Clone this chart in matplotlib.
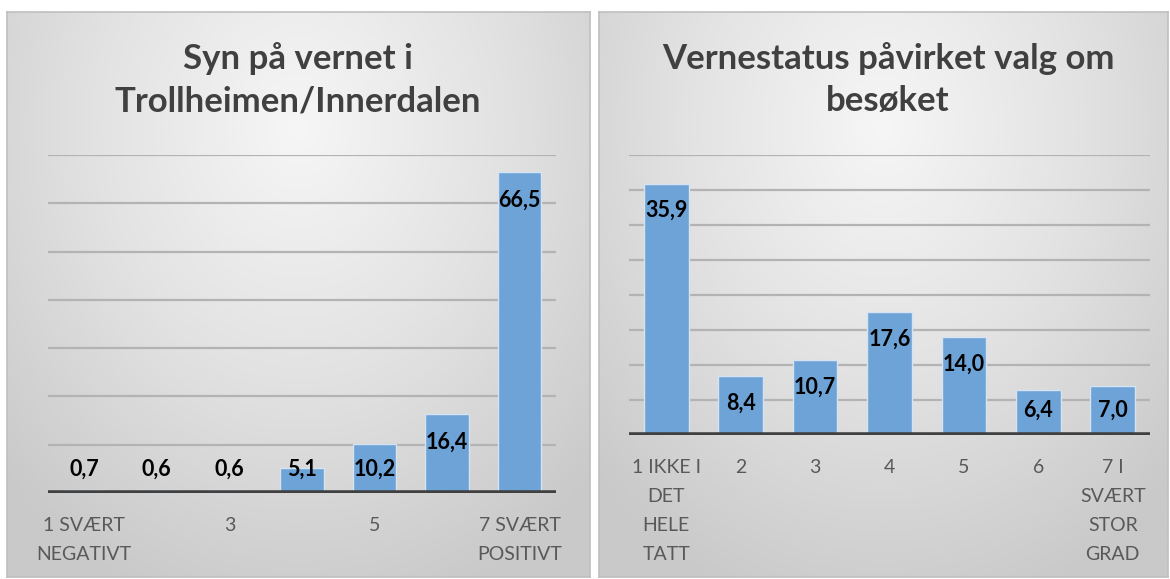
import numpy as np
import matplotlib
matplotlib.use("Agg")
import matplotlib.pyplot as plt
from matplotlib.colors import LinearSegmentedColormap

plt.rcParams['font.family'] = ['Lato', 'DejaVu Sans']

# left chart
left_title = "Syn på vernet i\nTrollheimen/Innerdalen"
left_cats = ["1 SVÆRT\nNEGATIVT", "2", "3", "4", "5", "6", "7 SVÆRT\nPOSITIVT"]
left_vals = [0.7, 0.6, 0.6, 5.1, 10.2, 16.4, 66.5]

# right chart
right_title = "Vernestatus påvirket valg om\nbesøket"
right_cats = ["1 IKKE I\nDET\nHELE\nTATT", "2", "3", "4", "5", "6", "7 I\nSVÆRT\nSTOR\nGRAD"]
right_vals = [35.9, 8.4, 10.7, 17.6, 14.0, 6.4, 7.0]

W, H = 1170, 579
fig = plt.figure(figsize=(W / 100, H / 100), dpi=100)
fig.patch.set_facecolor('white')

bg_cmap = LinearSegmentedColormap.from_list('bg', ['#f6f6f6', '#e2e2e2', '#c9c9c9'])


def px_rect(x0, y0, x1, y1):
    return [x0 / W, 1 - y1 / H, (x1 - x0) / W, (y1 - y0) / H]


def panel_bg(x0, y0, x1, y1):
    bg = fig.add_axes(px_rect(x0, y0, x1, y1), zorder=-5)
    yy, xx = np.mgrid[0:1:200j, 0:1:200j]
    d = np.sqrt(((xx - 0.5) / 0.75) ** 2 + ((yy - 0.2) / 0.95) ** 2)
    bg.imshow(d, cmap=bg_cmap, vmin=0, vmax=0.95, aspect='auto',
              extent=[0, 1, 1, 0], interpolation='bilinear')
    bg.set_xlim(0, 1)
    bg.set_ylim(1, 0)
    bg.set_xticks([])
    bg.set_yticks([])
    for s in bg.spines.values():
        s.set_color('#bfbfbf')
        s.set_linewidth(1.2)


def fmt(v):
    return f"{v:.1f}".replace('.', ',')


def bar_panel(rect, cats, vals, ymax, step, off, minpos, show_every, title, title_x):
    ax = fig.add_axes(rect)
    ax.patch.set_alpha(0)
    x = np.arange(len(cats))
    ax.bar(x, vals, width=0.6, color='#6ea3d7', edgecolor='#d6e4f2',
           linewidth=1.0, zorder=2)
    ax.set_xlim(-0.5, len(cats) - 0.5)
    ax.set_ylim(0, ymax)
    ax.set_yticks(np.arange(0, ymax + step, step))
    ax.yaxis.grid(True, color='#b3b3b3', linewidth=1.6)
    ax.set_axisbelow(True)
    ax.tick_params(axis='y', left=False, labelleft=False)
    ax.tick_params(axis='x', bottom=False, pad=14, labelsize=14,
                   labelcolor='#595959')
    shown = x[::show_every]
    ax.set_xticks(shown)
    ax.set_xticklabels([cats[i] for i in shown], linespacing=1.85, va='top')
    for s in ax.spines.values():
        s.set_visible(False)
    ax.axhline(0, color='#404040', linewidth=4, zorder=3)
    for xi, v in zip(x, vals):
        ax.text(xi, max(v - off, minpos), fmt(v), ha='center', va='center',
                fontsize=15.5, fontweight='bold', color='black', zorder=4)
    fig.text(title_x, 0.862, title, ha='center', va='center', fontsize=25,
             fontweight='bold', color='#404040', linespacing=1.38)
    return ax


panel_bg(7, 12, 590, 577)
panel_bg(599, 12, 1168, 577)

bar_panel(px_rect(48, 155, 556, 493), left_cats, left_vals, 70, 10,
          5.8, 5.0, 2, left_title, 298 / W)
bar_panel(px_rect(629, 155, 1150, 435), right_cats, right_vals, 40, 5,
          3.85, 3.6, 1, right_title, 888 / W)

fig.savefig('out.png', dpi=100, facecolor=fig.get_facecolor())
